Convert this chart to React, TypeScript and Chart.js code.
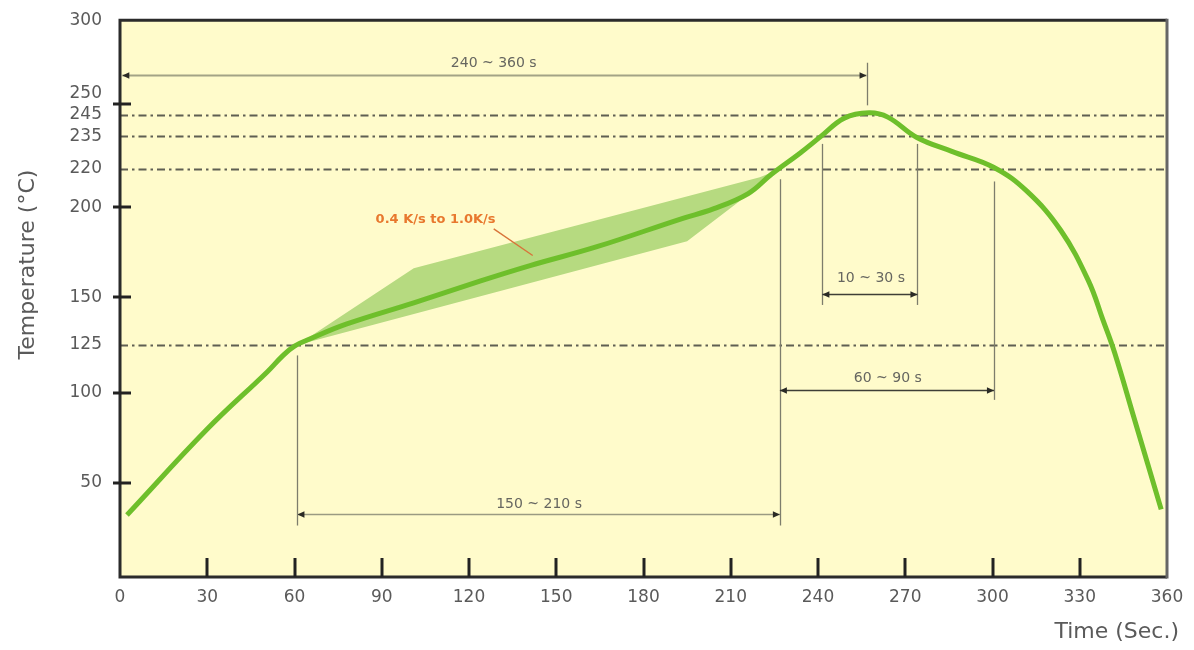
import React, { useEffect, useRef } from 'react';
import { Chart, registerables, LinearScale } from 'chart.js';

// ---- data (time in s, temperature in °C) ----
const TIME = [2.4, 30, 50.6, 56, 60, 65, 78, 101, 124, 141, 164, 193, 204, 216, 224, 234, 241, 249, 257.5, 264, 274, 286, 300.5, 312, 323.5, 333, 338, 342, 348.7, 358];
const TEMP = [33, 80, 111, 119.5, 124.5, 128, 136, 147, 159, 167.5, 178, 193.5, 199, 207, 217, 227.4, 235, 243.5, 246, 244, 234.5, 228, 220.5, 208, 187, 159, 138, 121, 86, 36];

const BAND_UPPER_T = [61, 101, 220, 224];
const BAND_UPPER_V = [125, 166, 215.5, 218];
const BAND_LOWER_T = [61, 195, 213, 224];
const BAND_LOWER_V = [125, 181, 203, 218];

const X_MIN = 0;
const X_MAX = 360;
const X_STEP = 30;
const Y_TICKS = [50, 100, 125, 150, 200, 220, 235, 245, 250, 300];
const Y_RAISED_LABELS = [250];
const Y_TICK_MARKS = [50, 100, 150, 200, 250];
const REF_LEVELS = [125, 220, 235, 245];

// dimension arrows
const SPAN_LABELS = ['240 ~ 360 s', '150 ~ 210 s', '10 ~ 30 s', '60 ~ 90 s'];
const SPAN_FROM = [0.8, 61, 241.5, 226.9];
const SPAN_TO = [256.7, 226.9, 274.2, 300.5];
const SPAN_LEVEL = [267.5, 33.7, 151.8, 101.5];
const SPAN_TEXT_T = [128.5, 144.1, 258.2, 264];
const SPAN_TEXT_V = [274.1, 38.9, 160.4, 107.7];

// vertical guide lines: time, top temp, bottom temp
const GUIDE_T = [61, 226.9, 241.5, 274.2, 300.5, 256.7];
const GUIDE_TOP = [119.6, 214.4, 231.5, 231.5, 213.3, 274.7];
const GUIDE_BOTTOM = [27.4, 27.4, 145.9, 145.9, 96.2, 249.5];

const RATE_LABEL = '0.4 K/s to 1.0K/s';
const RATE_LABEL_POS = [108.5, 192.9];
const RATE_LEADER_T = [128.5, 141.9];
const RATE_LEADER_V = [187.9, 173.1];

const X_TITLE = 'Time (Sec.)';
const Y_TITLE = 'Temperature (°C)';

// ---- schematic (piecewise-linear) temperature scale ----
const Y_BREAK_VALUES = [0, 50, 100, 150, 200, 220, 250, 300];
const Y_BREAK_FRACTIONS = [0, 0.1687, 0.3304, 0.5027, 0.6643, 0.7336, 0.849, 1];

function interp(xs: number[], ys: number[], v: number): number {
  const n = xs.length - 1;
  if (v <= xs[0]) return ys[0] + ((v - xs[0]) * (ys[1] - ys[0])) / (xs[1] - xs[0]);
  for (let i = 1; i <= n; i++) {
    if (v <= xs[i]) return ys[i - 1] + ((v - xs[i - 1]) * (ys[i] - ys[i - 1])) / (xs[i] - xs[i - 1]);
  }
  return ys[n] + ((v - xs[n]) * (ys[n] - ys[n - 1])) / (xs[n] - xs[n - 1]);
}

class BrokenLinearScale extends LinearScale {
  static id = 'brokenLinear';
  static defaults = (LinearScale as any).defaults;
  getPixelForValue(value: any) {
    if (value === null || value === undefined || isNaN(value)) return NaN;
    return this.getPixelForDecimal(interp(Y_BREAK_VALUES, Y_BREAK_FRACTIONS, value));
  }
  getValueForPixel(pixel: number) {
    return interp(Y_BREAK_FRACTIONS, Y_BREAK_VALUES, this.getDecimalForPixel(pixel));
  }
}

Chart.register(...registerables, BrokenLinearScale as any);

const FONT = '"DejaVu Sans", sans-serif';
const TEXT_COLOR = '#5a5a5a';
const PLOT_BG = '#FFFBCB';
const CURVE = '#6EBF2B';
const BAND = '#B6DA80';

function arrowHead(ctx: CanvasRenderingContext2D, x: number, y: number, dir: number) {
  ctx.beginPath();
  ctx.moveTo(x, y);
  ctx.lineTo(x - dir * 7, y - 3.2);
  ctx.lineTo(x - dir * 7, y + 3.2);
  ctx.closePath();
  ctx.fill();
}

const decorPlugin = {
  id: 'reflowDecor',
  beforeDraw(chart: any) {
    const { ctx, chartArea: a } = chart;
    ctx.save();
    ctx.fillStyle = PLOT_BG;
    ctx.fillRect(a.left, a.top, a.right - a.left, a.bottom - a.top);
    ctx.restore();
  },
  beforeDatasetsDraw(chart: any) {
    const { ctx, chartArea: a } = chart;
    const xs = chart.scales.x;
    const ys = chart.scales.y;
    ctx.save();
    // dash-dot reference levels
    ctx.strokeStyle = '#5f5f52';
    ctx.lineWidth = 1.8;
    ctx.setLineDash([8, 4, 2.5, 4]);
    REF_LEVELS.forEach((v) => {
      const y = Math.round(ys.getPixelForValue(v)) + 0.5;
      ctx.beginPath();
      ctx.moveTo(a.left, y);
      ctx.lineTo(a.right, y);
      ctx.stroke();
    });
    ctx.setLineDash([]);
    // vertical guides
    ctx.strokeStyle = '#7d7d6c';
    ctx.lineWidth = 1.3;
    GUIDE_T.forEach((t, i) => {
      const x = Math.round(xs.getPixelForValue(t)) + 0.5;
      ctx.beginPath();
      ctx.moveTo(x, ys.getPixelForValue(GUIDE_TOP[i]));
      ctx.lineTo(x, ys.getPixelForValue(GUIDE_BOTTOM[i]));
      ctx.stroke();
    });
    // dimension lines
    SPAN_FROM.forEach((f, i) => {
      const y = Math.round(ys.getPixelForValue(SPAN_LEVEL[i])) + 0.5;
      ctx.strokeStyle = i === 0 ? '#a3a386' : i === 1 ? '#9a9a82' : '#3e3e36';
      ctx.lineWidth = i === 0 ? 2 : 1.5;
      ctx.beginPath();
      ctx.moveTo(xs.getPixelForValue(f), y);
      ctx.lineTo(xs.getPixelForValue(SPAN_TO[i]), y);
      ctx.stroke();
    });
    ctx.restore();
  },
  afterDatasetsDraw(chart: any) {
    const { ctx, chartArea: a } = chart;
    const xs = chart.scales.x;
    const ys = chart.scales.y;
    ctx.save();
    // arrow heads
    ctx.fillStyle = '#2a2a25';
    SPAN_FROM.forEach((f, i) => {
      const y = Math.round(ys.getPixelForValue(SPAN_LEVEL[i])) + 0.5;
      arrowHead(ctx, xs.getPixelForValue(f), y, -1);
      arrowHead(ctx, xs.getPixelForValue(SPAN_TO[i]), y, 1);
    });
    // span texts
    ctx.fillStyle = '#666660';
    ctx.font = `14px ${FONT}`;
    ctx.textAlign = 'center';
    ctx.textBaseline = 'middle';
    SPAN_LABELS.forEach((s, i) => {
      ctx.fillText(s, xs.getPixelForValue(SPAN_TEXT_T[i]), ys.getPixelForValue(SPAN_TEXT_V[i]));
    });
    // rate label + leader
    ctx.strokeStyle = '#d8743a';
    ctx.lineWidth = 1.4;
    ctx.beginPath();
    ctx.moveTo(xs.getPixelForValue(RATE_LEADER_T[0]), ys.getPixelForValue(RATE_LEADER_V[0]));
    ctx.lineTo(xs.getPixelForValue(RATE_LEADER_T[1]), ys.getPixelForValue(RATE_LEADER_V[1]));
    ctx.stroke();
    ctx.fillStyle = '#E8782E';
    ctx.font = `bold 13px ${FONT}`;
    ctx.fillText(RATE_LABEL, xs.getPixelForValue(RATE_LABEL_POS[0]), ys.getPixelForValue(RATE_LABEL_POS[1]));
    // frame
    ctx.lineWidth = 3;
    ctx.strokeStyle = '#2b2b2b';
    ctx.beginPath();
    ctx.moveTo(a.right, a.top);
    ctx.lineTo(a.left, a.top);
    ctx.lineTo(a.left, a.bottom);
    ctx.lineTo(a.right, a.bottom);
    ctx.stroke();
    ctx.strokeStyle = '#666666';
    ctx.beginPath();
    ctx.moveTo(a.right, a.top - 1.5);
    ctx.lineTo(a.right, a.bottom + 1.5);
    ctx.stroke();
    // tick marks
    ctx.strokeStyle = '#222222';
    ctx.lineWidth = 3;
    Y_TICK_MARKS.forEach((v) => {
      const y = Math.round(ys.getPixelForValue(v));
      ctx.beginPath();
      ctx.moveTo(a.left - 7, y);
      ctx.lineTo(a.left + 11, y);
      ctx.stroke();
    });
    for (let t = X_MIN + X_STEP; t < X_MAX; t += X_STEP) {
      const x = Math.round(xs.getPixelForValue(t));
      ctx.beginPath();
      ctx.moveTo(x, a.bottom);
      ctx.lineTo(x, a.bottom - 19);
      ctx.stroke();
    }
    // axis titles
    ctx.fillStyle = TEXT_COLOR;
    ctx.font = `22px ${FONT}`;
    ctx.textBaseline = 'middle';
    ctx.textAlign = 'right';
    ctx.fillText(X_TITLE, a.right + 12, a.bottom + 55);
    ctx.translate(a.left - 92, (a.top + a.bottom) / 2 - 34);
    ctx.rotate(-Math.PI / 2);
    ctx.textAlign = 'center';
    ctx.fillText(Y_TITLE, 0, 0);
    ctx.restore();
  },
};

export default function App() {
  const ref = useRef<HTMLCanvasElement>(null);
  useEffect(() => {
    const chart = new Chart(ref.current as HTMLCanvasElement, {
      type: 'line',
      data: {
        datasets: [
          {
            label: 'Reflow profile',
            data: TIME.map((t, i) => ({ x: t, y: TEMP[i] })),
            borderColor: CURVE,
            borderWidth: 5,
            pointRadius: 0,
            tension: 0.4,
            fill: false,
          },
          {
            label: 'Ramp upper',
            data: BAND_UPPER_T.map((t, i) => ({ x: t, y: BAND_UPPER_V[i] })),
            borderWidth: 0,
            borderColor: 'rgba(0,0,0,0)',
            backgroundColor: BAND,
            pointRadius: 0,
            tension: 0,
            fill: '+1',
          },
          {
            label: 'Ramp lower',
            data: BAND_LOWER_T.map((t, i) => ({ x: t, y: BAND_LOWER_V[i] })),
            borderWidth: 0,
            borderColor: 'rgba(0,0,0,0)',
            pointRadius: 0,
            tension: 0,
            fill: false,
          },
        ],
      } as any,
      options: {
        animation: false,
        responsive: true,
        maintainAspectRatio: false,
        layout: { padding: { left: 0, right: 27, top: 1, bottom: 0 } },
        plugins: { legend: { display: false }, tooltip: { enabled: false } },
        scales: {
          x: {
            type: 'linear',
            min: X_MIN,
            max: X_MAX,
            grid: { display: false },
            border: { display: false },
            ticks: {
              stepSize: X_STEP,
              autoSkip: false,
              maxRotation: 0,
              padding: 2,
              color: TEXT_COLOR,
              font: { family: FONT, size: 17 },
            },
            afterFit: (s: any) => {
              s.height = 73;
            },
          },
          y: {
            type: 'brokenLinear',
            min: 0,
            max: 300,
            grid: { display: false },
            border: { display: false },
            afterBuildTicks: (s: any) => {
              s.ticks = Y_TICKS.map((v) => ({ value: v }));
            },
            ticks: {
              autoSkip: false,
              padding: 10,
              color: TEXT_COLOR,
              font: { family: FONT, size: 17 },
              callback: (v: any) => (Y_RAISED_LABELS.includes(v) ? [String(v), ''] : String(v)),
            },
            afterFit: (s: any) => {
              s.width = 120;
            },
          },
        } as any,
      },
      plugins: [decorPlugin],
    });
    return () => chart.destroy();
  }, []);
  return (
    <div style={{ position: 'fixed', left: 0, top: 0, width: 1194, height: 650, background: '#ffffff' }}>
      <canvas ref={ref} />
    </div>
  );
}
